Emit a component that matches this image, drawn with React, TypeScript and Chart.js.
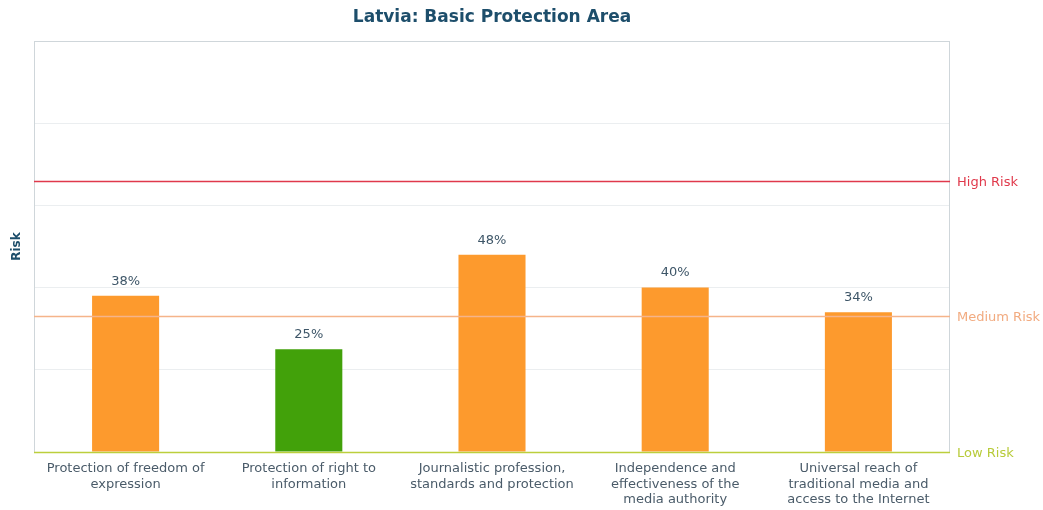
import React, { useEffect, useRef } from "react";
import { Chart, registerables } from "chart.js";

Chart.register(...registerables);

const titleText = "Latvia: Basic Protection Area";
const yAxisTitle = "Risk";
const categories: string[][] = [
  ["Protection of freedom of", "expression"],
  ["Protection of right to", "information"],
  ["Journalistic profession,", "standards and protection"],
  ["Independence and", "effectiveness of the", "media authority"],
  ["Universal reach of", "traditional media and", "access to the Internet"],
];
const riskValues = [38, 25, 48, 40, 34];
const barColors = ["#fd9a2d", "#42a10a", "#fd9a2d", "#fd9a2d", "#fd9a2d"];
const thresholdValues = [66, 33, 0];
const thresholdLabels = ["High Risk", "Medium Risk", "Low Risk"];
const thresholdColors = ["#e0394b", "#f5b48a", "#bccf3c"];
const thresholdTextColors = ["#e0394b", "#f2ab80", "#b8cb3a"];

const FONT = "'DejaVu Sans', Verdana, sans-serif";

const overlayPlugin = {
  id: "overlay",
  beforeDatasetsDraw(chart: any) {
    const { ctx, chartArea } = chart;
    ctx.save();
    ctx.strokeStyle = "#cfd6da";
    ctx.lineWidth = 1;
    ctx.strokeRect(chartArea.left + 0.5, chartArea.top + 0.5, chartArea.right - chartArea.left - 1, chartArea.bottom - chartArea.top);
    ctx.restore();
  },
  afterDatasetsDraw(chart: any) {
    const { ctx, chartArea, scales } = chart;
    const y = scales.y;
    ctx.save();
    thresholdValues.forEach((v, i) => {
      const py = Math.round(y.getPixelForValue(v)) + 0.5;
      ctx.strokeStyle = thresholdColors[i];
      ctx.lineWidth = 1.5;
      ctx.beginPath();
      ctx.moveTo(chartArea.left, py);
      ctx.lineTo(chartArea.right, py);
      ctx.stroke();
      ctx.fillStyle = thresholdTextColors[i];
      ctx.font = `13px ${FONT}`;
      ctx.textAlign = "left";
      ctx.textBaseline = "middle";
      ctx.fillText(thresholdLabels[i], chartArea.right + 7, py + 1);
    });
    const meta = chart.getDatasetMeta(0);
    ctx.fillStyle = "#3e5668";
    ctx.font = `13px ${FONT}`;
    ctx.textAlign = "center";
    ctx.textBaseline = "bottom";
    meta.data.forEach((bar: any, i: number) => {
      ctx.fillText(riskValues[i] + "%", bar.x, bar.y - 8);
    });
    ctx.fillStyle = "#1d4e6b";
    ctx.font = `bold 17px ${FONT}`;
    ctx.textBaseline = "middle";
    ctx.fillText(titleText, (chartArea.left + chartArea.right) / 2, 18);
    ctx.translate(17, (chartArea.top + chartArea.bottom) / 2);
    ctx.rotate(-Math.PI / 2);
    ctx.font = `bold 12px ${FONT}`;
    ctx.textAlign = "center";
    ctx.textBaseline = "middle";
    ctx.fillText(yAxisTitle, 0, 0);
    ctx.restore();
  },
};

export default function App() {
  const ref = useRef<HTMLCanvasElement>(null);
  useEffect(() => {
    document.body.style.margin = "0";
    const chart = new Chart(ref.current!, {
      type: "bar",
      data: {
        labels: categories,
        datasets: [
          {
            data: riskValues,
            backgroundColor: barColors,
            borderWidth: 0,
            barPercentage: 0.366,
            categoryPercentage: 1,
          },
        ],
      },
      options: {
        animation: false,
        responsive: false,
        layout: { padding: { top: 41, right: 93, left: 0, bottom: 0 } },
        plugins: { legend: { display: false }, tooltip: { enabled: false }, title: { display: false } },
        scales: {
          x: {
            grid: { display: false },
            border: { display: false },
            ticks: {
              color: "#4a5b69",
              font: { family: FONT, size: 13, lineHeight: 1.2 },
              padding: 1,
              maxRotation: 0,
              autoSkip: false,
            },
            afterFit: (s: any) => {
              s.height = 58;
            },
          },
          y: {
            min: 0,
            max: 100,
            ticks: { display: false, stepSize: 20 },
            grid: { color: "#ebeef0", drawTicks: false },
            border: { display: false },
            afterFit: (s: any) => {
              s.width = 34;
            },
          },
        },
      },
      plugins: [overlayPlugin],
    });
    return () => chart.destroy();
  }, []);
  return <canvas ref={ref} width={1043} height={510} style={{ display: "block" }} />;
}
